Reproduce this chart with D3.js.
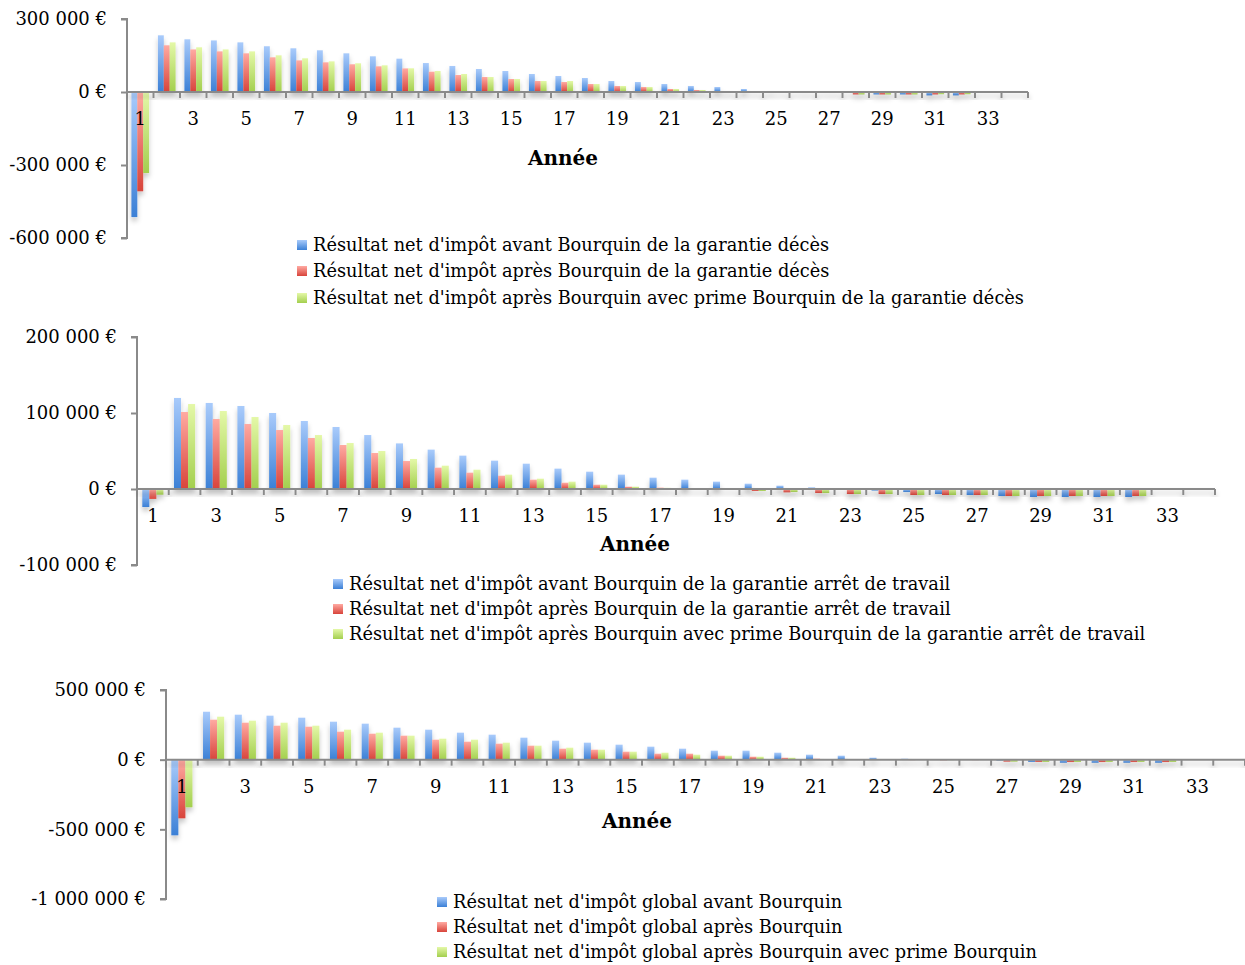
<!DOCTYPE html>
<html lang="fr">
<head>
<meta charset="utf-8">
<script src="https://cdn.jsdelivr.net/npm/d3@7"></script>
<style>
  html, body { margin: 0; padding: 0; background: #fff; }
  svg { display: block; font-family: "DejaVu Serif", "Liberation Serif", serif; }
</style>
</head>
<body>
<svg id="chart" width="1245" height="965"></svg>
<script>
// Années (catégories de l'axe horizontal)
const years = d3.range(1, 35);

// Garantie décès
const decesAvant = [-514000, 233000, 216500, 212000, 204000, 188000, 179600, 171400, 159000, 146700, 137000, 119000, 107000, 94500, 86300, 74000, 65800, 57500, 45200, 41100, 32900, 24700, 20500, 12300, 4100, -500, -500, -1000, -10000, -10000, -14000, -14000];
const decesApres = [-408000, 192000, 175000, 167000, 159000, 142600, 130000, 122000, 114000, 105600, 97000, 83500, 70000, 61700, 53400, 45200, 41100, 32900, 24700, 20500, 12300, 8200, 4100, 1000, -500, -1500, -1500, -10000, -10000, -10000, -10000, -10000];
const decesPrime = [-333000, 204000, 183700, 175000, 167000, 150800, 138500, 126000, 118000, 109700, 97400, 86300, 74000, 61700, 53400, 45200, 45200, 32900, 24700, 20500, 12300, 8200, 4100, 1000, -500, -1500, -1500, -10000, -10000, -10000, -9000, -9000];

// Garantie arrêt de travail
const arretAvant = [-23700, 119800, 113200, 109200, 100000, 89500, 81600, 71000, 60000, 51800, 43900, 37300, 33300, 26800, 22800, 18900, 14900, 12300, 9700, 7000, 4400, 2200, 0, -2000, -4000, -6600, -7900, -9200, -10500, -10500, -10500, -10500];
const arretApres = [-13000, 101300, 92100, 85500, 77600, 67100, 57900, 47400, 36800, 28100, 21500, 17500, 12300, 8300, 5700, 3100, 1800, 0, 0, -2600, -4400, -5300, -6600, -6600, -7900, -7900, -7900, -9200, -9200, -9200, -9200, -9200];
const arretPrime = [-7500, 111800, 102600, 94700, 84200, 71000, 60500, 50000, 39500, 30700, 25400, 18900, 13600, 9700, 5700, 3100, 1500, 0, 0, -2600, -4000, -5300, -6600, -6600, -7900, -7900, -7900, -9200, -9200, -9200, -9200, -9200];

// Résultat global
const globalAvant = [-543000, 344000, 322800, 315700, 301300, 272600, 258300, 229600, 215200, 193700, 179400, 157800, 136300, 122000, 107600, 93300, 78900, 64600, 64600, 50200, 35900, 28700, 14300, 7200, 0, 0, -6000, -16000, -22000, -22000, -22000, -22000];
const globalApres = [-421000, 287000, 265400, 243900, 236700, 200900, 186500, 172200, 143500, 129100, 114800, 100400, 78900, 71700, 57400, 43000, 43000, 28700, 21500, 14300, 7200, 1000, 0, -3000, -4000, -3000, -14000, -16000, -17000, -17000, -17000, -17000];
const globalPrime = [-342000, 308500, 279800, 265400, 243900, 215200, 193700, 172200, 150700, 143500, 122000, 100400, 86100, 71700, 57400, 50200, 35900, 28700, 21500, 14300, 3000, 1000, 0, -2000, -3000, -2000, -14000, -16000, -16000, -16000, -16000, -16000];

// Libellés de légende
const legendDeces = [
  "Résultat net d'impôt avant Bourquin de la garantie décès",
  "Résultat net d'impôt après Bourquin de la garantie décès",
  "Résultat net d'impôt après Bourquin avec prime Bourquin de la garantie décès"
];
const legendArret = [
  "Résultat net d'impôt avant Bourquin de la garantie arrêt de travail",
  "Résultat net d'impôt après Bourquin de la garantie arrêt de travail",
  "Résultat net d'impôt après Bourquin avec prime Bourquin de la garantie arrêt de travail"
];
const legendGlobal = [
  "Résultat net d'impôt global avant Bourquin",
  "Résultat net d'impôt global après Bourquin",
  "Résultat net d'impôt global après Bourquin avec prime Bourquin"
];

// Graduations de l'axe vertical
const ticksDeces = [-600000, -300000, 0, 300000];
const ticksArret = [-100000, 0, 100000, 200000];
const ticksGlobal = [-1000000, -500000, 0, 500000];

const axisTitle = "Année";
const seriesKeys = ["avant", "apres", "prime"];

const locale = d3.formatLocale({
  decimal: ",", thousands: "\u00a0", grouping: [3],
  currency: ["", "\u00a0€"], minus: "-"
});
const euro = locale.format("$,.0f");

const svg = d3.select("#chart");
const defs = svg.append("defs");

// Dégradés verticaux des barres : clair en haut, soutenu en bas
const gradients = {
  avant: ["#a9cbfb", "#3b80d6"],
  apres: ["#ffaaa2", "#d8443b"],
  prime: ["#e4f8a8", "#a3cf4e"]
};
Object.entries(gradients).forEach(([key, [top, bottom]]) => {
  const g = defs.append("linearGradient").attr("id", "grad-" + key)
    .attr("x1", 0).attr("y1", 0).attr("x2", 0).attr("y2", 1);
  g.append("stop").attr("offset", "0%").attr("stop-color", top);
  g.append("stop").attr("offset", "100%").attr("stop-color", bottom);
});

const shadow = defs.append("filter").attr("id", "shadow")
  .attr("x", "-10%").attr("y", "-20%").attr("width", "120%").attr("height", "150%");
shadow.append("feDropShadow").attr("dx", 0).attr("dy", 4).attr("stdDeviation", 2.5)
  .attr("flood-color", "#000").attr("flood-opacity", 0.22);

const panels = [
  { series: [decesAvant, decesApres, decesPrime], legend: legendDeces, ticks: ticksDeces,
    left: 127, right: 1028, top: 19, bottom: 238,
    title: [563, 158], legendX: 297, legendY: [244, 270, 297] },
  { series: [arretAvant, arretApres, arretPrime], legend: legendArret, ticks: ticksArret,
    left: 137, right: 1215, top: 337, bottom: 565,
    title: [635, 544], legendX: 333, legendY: [583, 608, 633] },
  { series: [globalAvant, globalApres, globalPrime], legend: legendGlobal, ticks: ticksGlobal,
    left: 166, right: 1245, top: 690, bottom: 899,
    title: [637, 821], legendX: 437, legendY: [901, 926, 951] }
];

const axisColor = "#8a8a8a";
// Resserrement horizontal des libellés de légende
const legendCondense = 0.935;

panels.forEach(p => {
  const g = svg.append("g");

  const y = d3.scaleLinear()
    .domain(d3.extent(p.ticks))
    .range([p.bottom, p.top]);

  const x = d3.scaleBand()
    .domain(years)
    .range([p.left, p.right])
    .paddingInner(1 / 3)
    .paddingOuter(1 / 6);

  const xs = d3.scaleBand().domain(seriesKeys).range([0, x.bandwidth()]);
  const step = x.step();
  const y0 = y(0);

  // Barres
  const bars = g.append("g").attr("filter", "url(#shadow)");
  seriesKeys.forEach((key, i) => {
    const values = p.series[i];
    bars.selectAll(null)
      .data(values.map((v, j) => ({ year: years[j], value: v })))
      .join("rect")
      .attr("x", d => x(d.year) + xs(key))
      .attr("width", xs.bandwidth())
      .attr("y", d => Math.min(y(d.value), y0))
      .attr("height", d => Math.abs(y(d.value) - y0))
      .attr("fill", `url(#grad-${key})`);
  });

  // Axe vertical
  const yAxis = d3.axisLeft(y)
    .tickValues(p.ticks)
    .tickSize(6)
    .tickPadding(14)
    .tickFormat(euro);
  const ya = g.append("g").attr("transform", `translate(${p.left},0)`).call(yAxis);
  ya.select(".domain").attr("stroke", axisColor).attr("stroke-width", 2)
    .attr("d", `M-6,${p.top}H0V${p.bottom}H-6`);
  ya.selectAll(".tick line").attr("stroke", axisColor).attr("stroke-width", 2);
  ya.selectAll(".tick text")
    .attr("fill", "#000").attr("font-size", 18)
    .attr("font-family", "DejaVu Serif, serif");

  // Axe horizontal : ligne, graduations entre années, libellés impairs
  const xa = g.append("g").attr("filter", "url(#shadow)");
  xa.append("line")
    .attr("x1", p.left).attr("x2", p.right)
    .attr("y1", y0).attr("y2", y0)
    .attr("stroke", axisColor).attr("stroke-width", 2);
  xa.selectAll(null)
    .data(years)
    .join("line")
    .attr("x1", d => x(d) - x.paddingOuter() * step + step)
    .attr("x2", d => x(d) - x.paddingOuter() * step + step)
    .attr("y1", y0).attr("y2", y0 + 6)
    .attr("stroke", axisColor).attr("stroke-width", 2);

  const xAxis = d3.axisBottom(x)
    .tickSize(0)
    .tickPadding(0)
    .tickFormat(d => d % 2 === 1 ? d : "");
  const xl = g.append("g").attr("transform", `translate(0,${y0 + 27})`).call(xAxis);
  xl.select(".domain").remove();
  xl.selectAll(".tick text")
    .attr("fill", "#000").attr("font-size", 18)
    .attr("font-family", "DejaVu Serif, serif")
    .attr("dy", "0.36em");

  // Titre de l'axe horizontal
  g.append("text")
    .attr("x", p.title[0]).attr("y", p.title[1])
    .attr("dy", "0.36em")
    .attr("text-anchor", "middle")
    .attr("font-size", 20).attr("font-weight", "bold")
    .text(axisTitle);

  // Légende
  const lg = g.append("g");
  seriesKeys.forEach((key, i) => {
    lg.append("rect")
      .attr("x", p.legendX).attr("y", p.legendY[i] - 4)
      .attr("width", 10).attr("height", 10)
      .attr("fill", `url(#grad-${key})`);
    const t = lg.append("text")
      .attr("x", p.legendX + 16).attr("y", p.legendY[i])
      .attr("dy", "0.36em")
      .attr("font-size", 19)
      .text(p.legend[i]);
    const w = t.node().getComputedTextLength();
    t.attr("textLength", w * legendCondense).attr("lengthAdjust", "spacingAndGlyphs");
  });
});
</script>
</body>
</html>
